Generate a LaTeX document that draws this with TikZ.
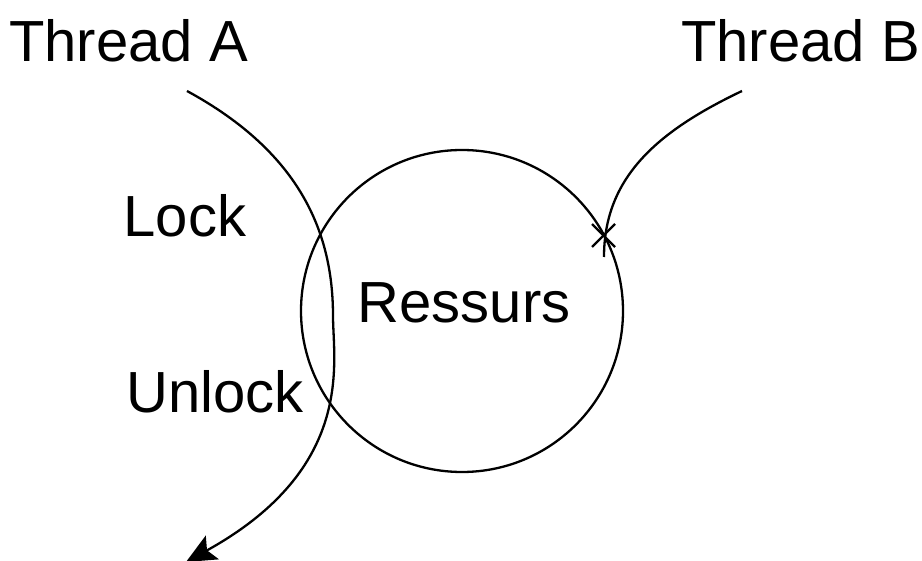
\documentclass[tikz,border=0pt]{standalone}
\usepackage{fontspec}
\setmainfont{Liberation Sans}
\usetikzlibrary{arrows.meta,calc}
\begin{document}
\begin{tikzpicture}[x=1pt,y=-1pt,
  lbl/.style={font=\fontsize{58}{68}\selectfont, inner sep=0pt, anchor=base},
  wire/.style={line width=2.3pt, draw=black},
  res/.style={circle, line width=2.3pt, draw=black, minimum size=322pt, inner sep=0pt}]
\useasboundingbox (0,0) rectangle (922,561);
\node[lbl] (ta) at (128.5,62) {Thread A};
\node[lbl] (tb) at (800.5,62) {Thread B};
\node[lbl] (lock) at (185,237) {Lock};
\node[lbl] (unlock) at (215,413) {Unlock};
\node[res] (ressurs) at (462,311) {};
\node[lbl] (rtext) at (464,323) {Ressurs};
\coordinate (as) at (187,91);
\coordinate (am) at (333,316);
\coordinate (ae) at (186,562);
\coordinate (bs) at (742,91);
\coordinate (be) at (604,257);
\coordinate (bx) at (603.5,235.5);
\draw[wire, -{Stealth[length=30pt,width=27pt,inset=6pt]}] (as) .. controls (303,154) and (333,236) .. (am)
  .. controls (333,362) and (356,468) .. (ae);
\draw[wire] (bs) .. controls (658,131) and (604,177) .. (be);
\draw[wire] ($(bx)+(-11.5,-11.5)$) -- ($(bx)+(11.5,11.5)$);
\draw[wire] ($(bx)+(11.5,-11.5)$) -- ($(bx)+(-11.5,11.5)$);
\end{tikzpicture}
\end{document}
